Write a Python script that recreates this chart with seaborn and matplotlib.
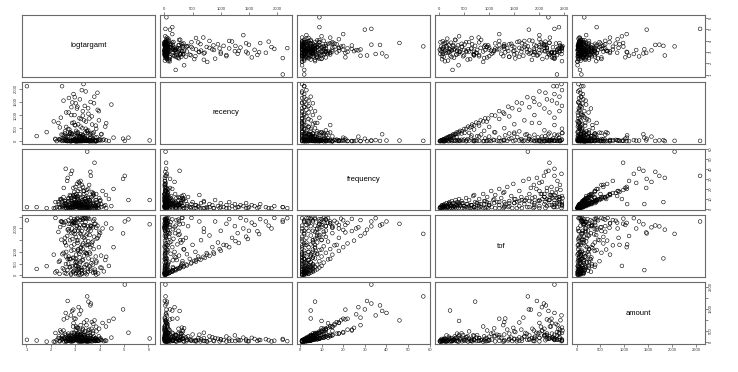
import matplotlib
matplotlib.use("Agg")
import matplotlib.pyplot as plt
import pandas as pd
import seaborn as sns

# one-time buyers (recency close to tof)
logt_once = [3.13, 2.64, 3.41, 2.18, 3.82, 2.93, 3.27, 2.55, 3.62, 4.08, 2.79, 1.83, 3.04, 3.48, 2.71, 3.86, 3.22, 2.37, 3.69, 3.01,
             2.94, 4.27, 3.36, 2.12, 3.17, 3.58, 2.84, 3.31, 3.97, 2.63, 3.09, 3.53, 2.88, 3.77, 2.98, 2.74, 3.43, 3.91, 2.46, 3.34]
rec_once = [28, 48, 85, 95, 140, 150, 200, 215, 265, 280, 335, 350, 400, 390, 470, 480, 560, 530, 640, 610,
            715, 690, 800, 760, 880, 870, 1000, 980, 1150, 1100, 1320, 1260, 1480, 1450, 1680, 1650, 1900, 1850, 2100, 2180]
freq_once = [1, 1, 2, 1, 1, 2, 1, 1, 1, 2, 1, 1, 3, 1, 1, 2, 1, 1, 1, 2,
             1, 1, 2, 1, 1, 1, 2, 1, 1, 1, 2, 1, 1, 1, 2, 1, 1, 1, 2, 1]
tof_once = [30, 60, 90, 120, 150, 180, 210, 250, 280, 320, 350, 390, 420, 460, 500, 540, 580, 620, 660, 700,
            740, 790, 830, 880, 920, 980, 1050, 1120, 1200, 1280, 1380, 1460, 1550, 1650, 1760, 1880, 2000, 2120, 2280, 2440]
amt_once = [20, 35, 60, 15, 45, 80, 30, 25, 55, 90, 40, 20, 120, 35, 65, 70, 25, 50, 30, 95,
            45, 60, 85, 20, 40, 70, 110, 30, 55, 25, 75, 45, 35, 60, 100, 50, 30, 80, 140, 40]

# repeat customers
logt_rep = [3.21, 2.83, 3.47, 3.02, 2.36, 3.94, 3.28, 2.57, 3.73, 3.14, 2.91, 3.38, 4.17, 2.24, 3.63, 2.97, 2.68, 3.81, 3.16, 1.42,
            3.52, 2.49, 3.26, 4.03, 2.77, 3.12, 3.58, 2.86, 4.38, 3.24, 2.99, 3.43, 2.62, 3.66, 3.08, 2.33, 3.87, 3.29, 2.81, 3.54,
            3.18, 2.73, 4.06, 3.04, 3.61, 2.52, 3.39, 3.11, 2.94, 3.76, 3.23, 4.57, 2.84, 3.46, 2.96, 3.32, 2.58, 3.72, 3.07, 2.43,
            3.88, 3.36, 3.03, 2.67, 3.59, 3.49, 3.19, 2.92, 3.98, 3.27, 4.96, 3.13, 2.78, 3.41, 3.68, 2.98, 3.53, 2.72, 3.17, 3.86,
            2.38, 3.64, 3.06, 3.34, 2.87, 4.26, 3.01, 3.42, 2.61, 3.74, 3.22, 5.18, 3.47, 3.09, 2.82, 3.57, 3.31, 5.03, 2.96, 3.79,
            2.53, 3.37, 3.14, 4.12, 2.69, 3.52, 3.18, 2.91, 6.05, 3.62, 3.04, 3.48, 2.76, 3.29, 2.63, 3.84, 3.12, 2.87, 3.44, 3.97,
            3.23, 2.41, 3.68, 2.97, 3.54, 2.73, 3.31, 3.92, 3.07, 2.84, 3.39, 4.48, 3.02, 3.63, 2.52, 3.19, 3.78, 2.93, 3.27, 1.02,
            3.11, 3.53, 2.58, 3.72, 2.98, 2.81, 3.43, 3.24, 4.23, 2.31, 3.03, 3.37, 2.69, 3.61, 3.12, 2.88, 3.83, 3.18, 2.47, 3.52,
            2.97, 3.28, 2.79, 3.67, 3.13, 2.62, 3.44, 3.86, 2.19, 3.21, 3.58, 3.04, 2.72, 3.49, 3.07, 2.93, 3.32, 4.02, 2.83, 3.38,
            3.17, 2.58, 3.73, 3.01, 3.47, 2.44, 3.28, 3.81, 3.09, 2.91]
rec_rep = [5, 10, 30, 20, 45, 30, 60, 40, 90, 25, 50, 120, 70, 9, 150, 80, 180, 45, 5, 200,
           22, 240, 12, 35, 280, 8, 55, 300, 15, 140, 10, 60, 25, 320, 5, 80, 30, 150, 15, 45,
           200, 20, 260, 8, 110, 35, 180, 12, 60, 340, 25, 140, 5, 50, 230, 18, 300, 120, 10, 40,
           160, 30, 85, 8, 250, 20, 190, 35, 65, 15, 100, 45, 5, 330, 25, 10, 60, 150, 25, 5,
           90, 35, 200, 15, 270, 40, 8, 110, 30, 55, 12, 140, 20, 310, 45, 5, 250, 18, 65, 30,
           100, 10, 180, 40, 8, 320, 22, 55, 35, 15, 320, 400, 450, 500, 550, 600, 650, 700, 750, 800,
           850, 900, 950, 1000, 1050, 1100, 1150, 1200, 1250, 1300, 1350, 1400, 1450, 1500, 1550, 1600, 1700, 1800, 1950, 2100,
           350, 420, 380, 300, 620, 330, 480, 270, 560, 700, 2, 150, 30, 8, 250, 20, 5, 65, 12, 40,
           25, 7, 285, 3, 55, 180, 35, 10, 70, 28, 4, 45, 214, 60, 9, 38, 220, 75, 6, 48,
           160, 90, 2, 33, 11, 258, 26, 4, 42, 19]
freq_rep = [1, 2, 1, 3, 2, 4, 2, 3, 5, 2, 4, 6, 3, 2, 5, 7, 3, 4, 8, 2,
            6, 3, 5, 9, 4, 7, 3, 6, 10, 5, 4, 8, 6, 3, 11, 5, 9, 4, 13, 7,
            6, 10, 5, 15, 8, 12, 6, 18, 9, 14, 7, 20, 11, 16, 5, 22, 8, 13, 25, 10,
            7, 18, 12, 28, 9, 57, 15, 21, 11, 24, 30, 6, 14, 10, 17, 12, 20, 8, 26, 15,
            10, 33, 7, 18, 38, 14, 22, 11, 40, 16, 28, 9, 19, 13, 35, 24, 12, 33, 17, 46,
            21, 15, 27, 18, 31, 11, 20, 14, 9, 37, 3, 5, 2, 7, 4, 3, 6, 8, 2, 5,
            4, 9, 3, 6, 2, 4, 7, 3, 5, 2, 4, 3, 6, 2, 4, 3, 5, 2, 3, 2,
            10, 12, 8, 6, 14, 9, 5, 11, 4, 7, 3, 5, 2, 7, 4, 6, 9, 3, 8, 2,
            10, 4, 6, 12, 3, 5, 8, 2, 7, 4, 9, 5, 11, 3, 6, 13, 4, 8, 2, 10,
            3, 6, 15, 5, 7, 4, 9, 3, 12, 6]
tof_rep = [15, 25, 40, 50, 60, 75, 85, 95, 110, 120, 135, 150, 165, 180, 195, 210, 225, 240, 255, 270,
           285, 300, 315, 330, 345, 360, 375, 390, 400, 220, 420, 450, 480, 510, 540, 570, 600, 640, 680, 720,
           760, 800, 840, 880, 920, 960, 1000, 1040, 1080, 1120, 1160, 1200, 1240, 1280, 1320, 1360, 1400, 1440, 1480, 1520,
           1560, 1600, 1640, 1680, 1720, 1770, 1800, 1830, 1860, 1890, 1790, 1100, 700, 1500, 1300, 1910, 1940, 1970, 2000, 2030,
           2060, 2090, 2120, 2150, 2180, 2210, 2240, 2270, 2300, 2330, 2360, 2390, 2420, 2450, 2440, 2410, 2380, 2300, 2250, 2200,
           2150, 2100, 2050, 2000, 1950, 2460, 2350, 2230, 2180, 2130, 600, 900, 700, 1300, 1000, 800, 1500, 2000, 950, 1700,
           1200, 2300, 1400, 1900, 1300, 2200, 2400, 1600, 2100, 1800, 2450, 2000, 2350, 1900, 2250, 2150, 2400, 2300, 2450, 2350,
           1100, 2100, 1600, 450, 2300, 2200, 2450, 1750, 650, 1850, 100, 350, 700, 1200, 1900, 2300, 2200, 500, 900, 150,
           2400, 60, 1500, 2100, 250, 800, 1700, 30, 2450, 1000, 2000, 400, 2350, 1300, 200, 2250, 650, 1800, 80, 2150,
           300, 1400, 2050, 550, 950, 2300, 1650, 120, 2400, 750]
amt_rep = [35, 25, 60, 140, 30, 60, 95, 150, 80, 110, 45, 300, 40, 85, 240, 120, 160, 60, 180, 70,
           90, 140, 260, 170, 200, 380, 35, 250, 950, 1420, 180, 120, 320, 150, 220, 260, 480, 70, 300, 1820,
           310, 180, 90, 700, 150, 520, 240, 380, 420, 260, 330, 1050, 190, 760, 1060, 560, 380, 200, 640, 450,
           120, 880, 560, 1100, 410, 2055, 300, 1460, 600, 520, 1470, 260, 280, 480, 900, 240, 420, 380, 1250, 690,
           520, 1735, 330, 390, 1400, 700, 1050, 210, 1310, 820, 760, 420, 980, 650, 1200, 560, 600, 2590, 380, 975,
           1020, 310, 1570, 860, 1850, 520, 450, 700, 160, 1650, 150, 90, 110, 340, 70, 180, 120, 420, 40, 260,
           220, 180, 150, 130, 90, 250, 160, 60, 300, 110, 80, 200, 120, 40, 190, 140, 90, 130, 60, 100,
           620, 260, 210, 390, 330, 170, 120, 370, 70, 180, 130, 60, 100, 310, 190, 110, 150, 90, 260, 25,
           230, 90, 150, 600, 60, 60, 230, 80, 410, 100, 180, 320, 290, 40, 160, 850, 140, 130, 70, 320,
           110, 120, 500, 210, 180, 90, 160, 150, 380, 200]

names = ["logtargamt", "recency", "frequency", "tof", "amount"]
ticks = {
    "logtargamt": [1, 2, 3, 4, 5, 6],
    "recency": [0, 500, 1000, 1500, 2000],
    "frequency": [0, 10, 20, 30, 40, 50, 60],
    "tof": [0, 500, 1000, 1500, 2000, 2500],
    "amount": [0, 500, 1000, 1500, 2000, 2500],
}
# labels R kept on the vertical axes (overlapping ones dropped)
side_labels = {
    "logtargamt": ["1", "2", "3", "4", "5", "6"],
    "recency": ["0", "500", "1000", "1500", "2000"],
    "frequency": ["0", "10", "20", "30", "40", "50", "60"],
    "tof": ["0", "500", "1000", "", "2000", ""],
    "amount": ["0", "500", "", "1500", "", "2500"],
}

df = pd.DataFrame({
    "logtargamt": logt_once + logt_rep,
    "recency": rec_once + rec_rep,
    "frequency": freq_once + freq_rep,
    "tof": tof_once + tof_rep,
    "amount": amt_once + amt_rep,
})

sns.set_theme(style="white")
plt.rcParams["font.family"] = ["Liberation Sans", "DejaVu Sans"]

g = sns.PairGrid(df, vars=names, height=1, aspect=2, despine=False)
g.map_offdiag(sns.scatterplot, marker="o", s=7, facecolor="none",
              edgecolor="black", linewidth=0.4)

fig = g.figure
fig.set_size_inches(7.38, 3.72)
fig.subplots_adjust(left=22 / 738, right=705 / 738, top=1 - 15 / 372,
                    bottom=1 - 344 / 372, wspace=0.038, hspace=0.082)

lims = {}
for v in names:
    lo, hi = df[v].min(), df[v].max()
    pad = 0.04 * (hi - lo)
    lims[v] = (lo - pad, hi + pad)

n = len(names)
for i in range(n):
    for j in range(n):
        ax = g.axes[i, j]
        ax.set_xlabel("")
        ax.set_ylabel("")
        ax.set_xlim(*lims[names[j]])
        ax.set_ylim(*lims[names[i]])
        ax.tick_params(bottom=False, top=False, left=False, right=False,
                       labelbottom=False, labeltop=False,
                       labelleft=False, labelright=False,
                       length=2, width=0.5, pad=1, labelsize=3, labelcolor="#333333", color="#555555")
        for sp in ax.spines.values():
            sp.set_color("#6a6a6a")
            sp.set_linewidth(0.8)
        if i == j:
            ax.text(0.5, 0.5, names[i], transform=ax.transAxes, ha="center",
                    va="center", fontsize=5.5, color="black")

for j in range(n):
    v = names[j]
    g.axes[0, j].set_xticks(ticks[v])
    g.axes[0, j].set_xticklabels([str(t) for t in ticks[v]])
    if j % 2 == 1:
        g.axes[0, j].tick_params(top=True, labeltop=True)
    else:
        g.axes[n - 1, j].tick_params(bottom=True, labelbottom=True)

for i in range(n):
    v = names[i]
    g.axes[i, 0].set_yticks(ticks[v])
    g.axes[i, 0].set_yticklabels(side_labels[v])
    if i % 2 == 1:
        g.axes[i, 0].tick_params(left=True, labelleft=True)
        for lab in g.axes[i, 0].get_yticklabels():
            lab.set_rotation(90)
            lab.set_va("center")
    else:
        g.axes[i, n - 1].tick_params(right=True, labelright=True)
        for lab in g.axes[i, n - 1].get_yticklabels():
            lab.set_rotation(90)
            lab.set_va("center")

fig.savefig("out.png", dpi=100)
